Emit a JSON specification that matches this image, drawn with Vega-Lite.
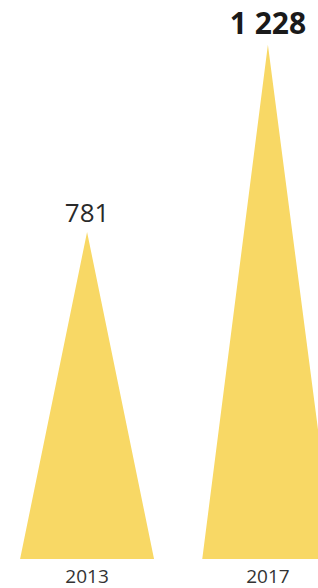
{
  "$schema": "https://vega.github.io/schema/vega-lite/v6.json",
  "width": 318,
  "height": 559,
  "padding": {"left": 0, "top": 0, "right": 0, "bottom": 29},
  "autosize": {"type": "none"},
  "background": "white",
  "config": {"view": {"stroke": null}},
  "datasets": {
    "tri": [
      {"year": "2013", "x": 0, "v": 0},
      {"year": "2013", "x": 1, "v": 781},
      {"year": "2013", "x": 2, "v": 0},
      {"year": "2017", "x": 2.72, "v": 0},
      {"year": "2017", "x": 3.70, "v": 1228},
      {"year": "2017", "x": 4.70, "v": 0}
    ],
    "lab": [
      {"year": "2013", "x": 1, "v": 781, "label": "781", "w": "normal"},
      {"year": "2017", "x": 3.70, "v": 1228, "label": "1 228", "w": "bold"}
    ]
  },
  "encoding": {
    "x": {"field": "x", "type": "quantitative", "scale": {"domain": [-0.3, 4.448], "nice": false, "zero": false}, "axis": null},
    "y": {"field": "v", "type": "quantitative", "scale": {"domain": [0, 1335], "nice": false}, "axis": null}
  },
  "layer": [
    {
      "data": {"name": "tri"},
      "mark": {"type": "area", "color": "#F8D865", "clip": true, "orient": "vertical"},
      "encoding": {"detail": {"field": "year"}}
    },
    {
      "data": {"name": "lab"},
      "transform": [{"filter": "datum.w == 'normal'"}],
      "mark": {"type": "text", "baseline": "bottom", "dy": -5, "font": "Open Sans", "fontSize": 26, "color": "#2a2a2a"},
      "encoding": {"text": {"field": "label"}}
    },
    {
      "data": {"name": "lab"},
      "transform": [{"filter": "datum.w == 'bold'"}],
      "mark": {"type": "text", "baseline": "bottom", "dy": -5, "font": "Open Sans", "fontSize": 30, "fontWeight": "bold", "color": "#1a1a1a"},
      "encoding": {"text": {"field": "label"}}
    },
    {
      "data": {"name": "lab"},
      "mark": {"type": "text", "baseline": "middle", "dy": 18, "font": "Open Sans", "fontSize": 19, "color": "#333"},
      "encoding": {
        "y": {"datum": 0, "type": "quantitative"},
        "text": {"field": "year"}
      }
    }
  ]
}
